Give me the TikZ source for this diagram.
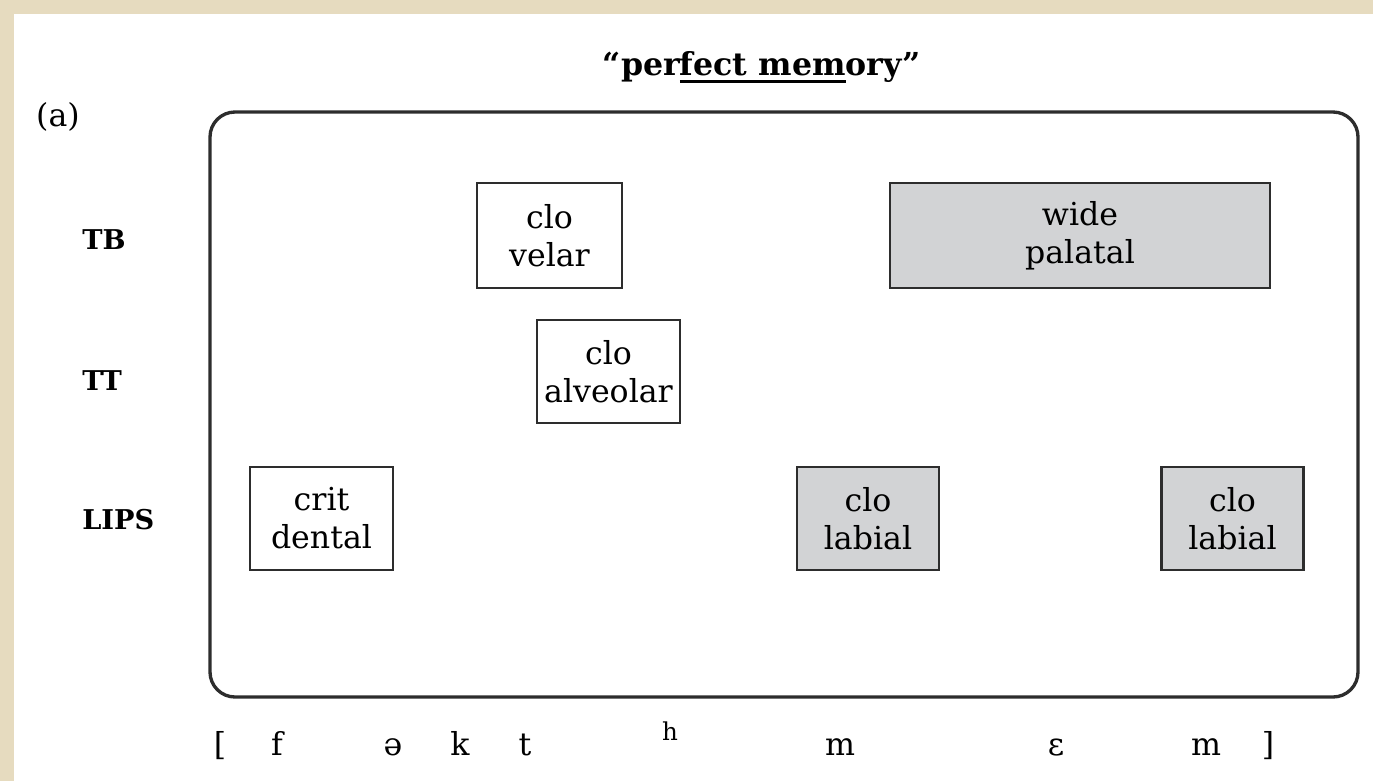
\documentclass[tikz,border=0pt]{standalone}
\usepackage{fontspec}
\setmainfont{DejaVu Serif}
\definecolor{c1}{RGB}{45,45,45}
\definecolor{c2}{RGB}{210,211,213}
\definecolor{c4}{RGB}{230,219,191}
% thick rule under part of a word
\newcommand{\thickul}[1]{\setbox0\hbox{#1}\rlap{\rule[-4.5pt]{\wd0}{1.6pt}}\box0}

\begin{document}
\begin{tikzpicture}[x=0.02cm,y=-0.02cm,
    gest/.style={draw=c1,line width=1.6pt,align=center,inner sep=0pt,
        font=\fontsize{18}{21.6}\selectfont},
    tier/.style={anchor=west,inner sep=0pt,font=\fontsize{15.5}{18}\selectfont\bfseries},
    seg/.style={anchor=base,font=\fontsize{18}{21.6}\selectfont}]
    \useasboundingbox (0,0) rectangle (1373,781);
    % page edge
    \fill[c4] (0,0) rectangle (1373,14);
    \fill[c4] (0,0) rectangle (14,781);

    \node[anchor=base,font=\fontsize{18}{21.6}\selectfont\bfseries] (title) at (762,75)
        {“per\thickul{fect mem}ory”};
    \node[font=\fontsize{18}{21.6}\selectfont] (panel) at (58,117) {(a)};

    % the score
    \draw[draw=c1,line width=1.9pt,rounded corners=0.5cm] (210,112) rectangle (1358,697);

    % tiers
    \node[tier] (tb) at (82,240) {TB};
    \node[tier] (tt) at (82,381) {TT};
    \node[tier] (lips) at (82,520) {LIPS};

    % gestures
    \node[gest,minimum width=2.9cm,minimum height=2.1cm] (velar) at (549.5,235.5) {clo\\velar};
    \node[gest,fill=c2,minimum width=7.6cm,minimum height=2.1cm] (palatal) at (1080,235.5) {wide\\palatal};
    \node[gest,minimum width=2.86cm,minimum height=2.06cm] (alveolar) at (608.5,371.5) {clo\\alveolar};
    \node[gest,minimum width=2.86cm,minimum height=2.06cm] (dental) at (321.5,518.5) {crit\\dental};
    \node[gest,fill=c2,minimum width=2.84cm,minimum height=2.06cm] (labialA) at (868,518.5) {clo\\labial};
    \node[gest,fill=c2,minimum width=2.84cm,minimum height=2.06cm] (labialB) at (1232.5,518.5) {clo\\labial};

    % transcription
    \node[seg] (lbrack) at (220,755) {[};
    \node[seg] (sf) at (277,755) {f};
    \node[seg] (sschwa) at (393,755) {ə};
    \node[seg] (sk) at (460,755) {k};
    \node[seg] (st) at (525,755) {t};
    \node[anchor=base,font=\fontsize{14}{16}\selectfont] (sh) at (670,740) {h};
    \node[seg] (sm) at (840,755) {m};
    \node[seg] (seps) at (1056,755) {ɛ};
    \node[seg] (smm) at (1206,755) {m};
    \node[seg] (rbrack) at (1268,755) {]};
\end{tikzpicture}
\end{document}
